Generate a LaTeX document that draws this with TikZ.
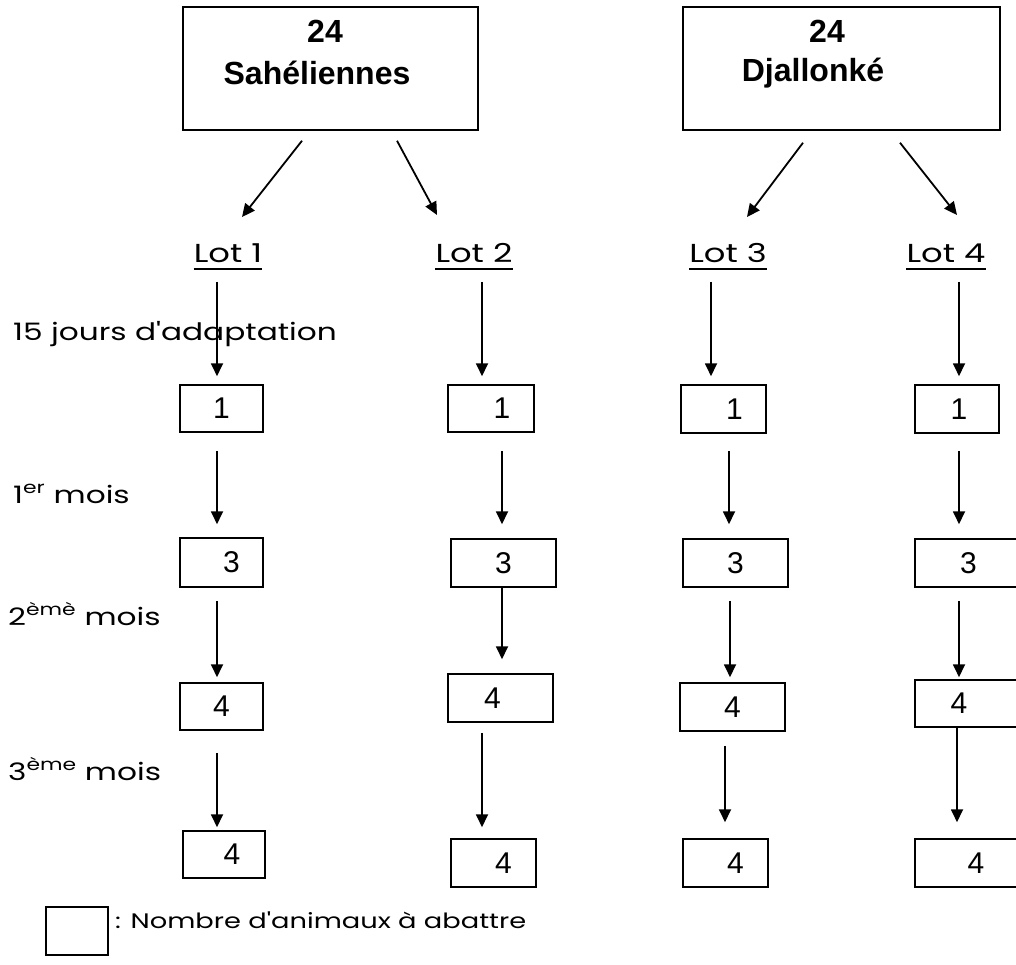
\documentclass[tikz,border=0pt]{standalone}
\usepackage{fontspec}
\newfontfamily\gothic[FakeStretch=1.3]{Poppins}
\newfontfamily\arialf{Liberation Sans}
\usetikzlibrary{arrows.meta,calc}
\newcommand\numb[8]{\node[numbox, minimum width={(#3-#2)*1pt}, minimum height={(#5-#4)*1pt}] (#1) at ({(#2+#3)/2},{(#4+#5)/2}) {\hspace*{#6pt}#8\hspace*{#7pt}};}
\begin{document}
\begin{tikzpicture}[x=1pt,y=-1pt,
  boxline/.style={draw, line width=1.5pt},
  titlebox/.style={boxline, inner sep=0pt},
  titletext/.style={font=\arialf\bfseries\fontsize{32}{38}\selectfont, inner sep=0pt, anchor=base},
  lotlabel/.style={font=\gothic\fontsize{26}{30}\selectfont, inner sep=0pt, anchor=base},
  sidelabel/.style={font=\gothic\fontsize{24}{28}\selectfont, inner sep=0pt, anchor=base west},
  numbox/.style={boxline, inner sep=0pt, font=\arialf\fontsize{30}{34}\selectfont},
  arrowline/.style={line width=1.8pt, -{Triangle[width=12pt,length=13pt]}},
  uline/.style={line width=1.3pt},
]
\useasboundingbox (0,0) rectangle (1016,965);

% title boxes
\node[titlebox, minimum width=295pt, minimum height=123pt] (t1) at (330.5,68.5) {};
\node[titlebox, minimum width=317pt, minimum height=123pt] (t2) at (841.5,68.5) {};
\node[titletext] (t1n) at (325,43) {24};
\node[titletext] (t1s) at (317,85) {Sahéliennes};
\node[titletext] (t2n) at (827,43) {24};
\node[titletext] (t2s) at (813,82) {Djallonké};

% lot labels
\node[lotlabel] (lot1) at (228,263) {Lot 1};
\node[lotlabel] (lot2) at (474,263) {Lot 2};
\node[lotlabel] (lot3) at (728,263) {Lot 3};
\node[lotlabel] (lot4) at (946,263) {Lot 4};
\foreach \l in {lot1,lot2,lot3,lot4}
  \draw[uline] ($(\l.base west)+(0,6)$) -- ($(\l.base east)+(0,6)$);

% side labels
\node[sidelabel] (s0) at (13,340) {15 jours d'adaptation};
\node[sidelabel] (s1) at (13,503) {1\textsuperscript{er} mois};
\node[sidelabel] (s2) at (8,625) {2\textsuperscript{èmè} mois};
\node[sidelabel] (s3) at (8,780) {3\textsuperscript{ème} mois};

% number boxes: name, x1, x2, y1, y2, leftpad, rightpad, text
\numb{l1r1}{180}{263}{385}{432}{0}{0}{1}
\numb{l1r2}{180}{263}{538}{587}{20}{0}{3}
\numb{l1r3}{180}{263}{683}{730}{0}{0}{4}
\numb{l1r4}{183}{265}{831}{878}{16}{0}{4}

\numb{l2r1}{448}{534}{385}{432}{22}{0}{1}
\numb{l2r2}{451}{556}{539}{587}{0}{0}{3}
\numb{l2r3}{448}{553}{674}{722}{0}{16}{4}
\numb{l2r4}{451}{536}{839}{887}{20}{0}{4}

\numb{l3r1}{681}{766}{385}{433}{22}{0}{1}
\numb{l3r2}{683}{788}{539}{587}{0}{0}{3}
\numb{l3r3}{680}{785}{683}{731}{0}{0}{4}
\numb{l3r4}{683}{768}{839}{887}{20}{0}{4}

\numb{l4r1}{915}{999}{385}{433}{4}{0}{1}
\numb{l4r2}{915}{1022}{539}{587}{0}{0}{3}
\numb{l4r3}{915}{1022}{680}{727}{0}{19}{4}
\numb{l4r4}{915}{1022}{839}{887}{15}{0}{4}

% legend
\node[boxline, inner sep=0pt, minimum width=62pt, minimum height=48pt] (leg) at (77,931) {};
\node[font=\gothic\fontsize{21}{25}\selectfont, inner sep=0pt, anchor=base west] (legt) at (115,928) {: Nombre d'animaux à abattre};

% title arrows
\draw[arrowline] ($(t1.south)+(-28.5,10)$) -- ($(lot1.base)+(14,-46)$);
\draw[arrowline] ($(t1.south)+(66.5,10)$) -- ($(lot2.base)+(-37,-48)$);
\draw[arrowline] ($(t2.south)+(-38.5,12)$) -- ($(lot3.base)+(19,-46)$);
\draw[arrowline] ($(t2.south)+(58.5,12)$) -- ($(lot4.base)+(11,-48)$);

% lot 1
\draw[arrowline] ($(lot1.base)+(-11,19)$) -- ($(l1r1.north)+(-4.5,-8)$);
\draw[arrowline] ($(l1r1.south)+(-4.5,18)$) -- ($(l1r2.north)+(-4.5,-13)$);
\draw[arrowline] ($(l1r2.south)+(-4.5,13)$) -- ($(l1r3.north)+(-4.5,-5)$);
\draw[arrowline] ($(l1r3.south)+(-4.5,22)$) -- ($(l1r4.north)+(-7,-3)$);
% lot 2
\draw[arrowline] ($(lot2.base)+(8,19)$) -- ($(l2r1.north)+(-9,-8)$);
\draw[arrowline] ($(l2r1.south)+(11,18)$) -- ($(l2r2.north)+(-1.5,-14)$);
\draw[arrowline] ($(l2r2.south)+(-1.5,0)$) -- ($(l2r3.north)+(1.5,-14)$);
\draw[arrowline] ($(l2r3.south)+(-18.5,10)$) -- ($(l2r4.north)+(-11.5,-11)$);
% lot 3
\draw[arrowline] ($(lot3.base)+(-17,19)$) -- ($(l3r1.north)+(-12.5,-8)$);
\draw[arrowline] ($(l3r1.south)+(5.5,17)$) -- ($(l3r2.north)+(-6.5,-14)$);
\draw[arrowline] ($(l3r2.south)+(-5.5,13)$) -- ($(l3r3.north)+(-2.5,-5)$);
\draw[arrowline] ($(l3r3.south)+(-7.5,14)$) -- ($(l3r4.north)+(-0.5,-16)$);
% lot 4
\draw[arrowline] ($(lot4.base)+(13,19)$) -- ($(l4r1.north)+(2,-8)$);
\draw[arrowline] ($(l4r1.south)+(2,17)$) -- ($(l4r2.north)+(-9.5,-14)$);
\draw[arrowline] ($(l4r2.south)+(-9.5,13)$) -- ($(l4r3.north)+(-9.5,-2)$);
\draw[arrowline] ($(l4r3.south)+(-11.5,0)$) -- ($(l4r4.north)+(-11.5,-16)$);
\end{tikzpicture}
\end{document}
